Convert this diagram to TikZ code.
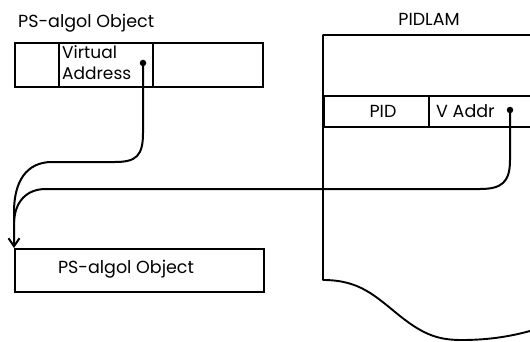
\documentclass[tikz,border=0pt]{standalone}
\usepackage{fontspec}
\setmainfont{Poppins}
\usetikzlibrary{arrows.meta}

\tikzset{
  cell/.style={draw, line width=1.9pt, inner sep=0pt, anchor=north west},
  lbl/.style={inner sep=0pt, font=\fontsize{17.5}{19}\selectfont},
  conn/.style={line width=2pt, line cap=round},
  dot/.style={circle, fill, inner sep=0pt, minimum size=6.5pt},
  outline/.style={line width=1.9pt, line join=round},
}

\begin{document}
\begin{tikzpicture}[x=1pt, y=-1pt]
  \useasboundingbox (0,0) rectangle (530,342);
  \clip (0,0) rectangle (530,342);

  % heap object holding a virtual address
  \node[lbl, anchor=base west] (objtitle) at (18,28) {PS-algol Object};
  \node[cell, minimum width=44pt, minimum height=44pt] (c1) at (14,42) {};
  \node[cell, minimum width=94pt, minimum height=44pt] (c2) at (58,42) {};
  \node[cell, minimum width=110pt, minimum height=44pt] (c3) at (152,42) {};
  \node[lbl, anchor=north west, align=left, font=\fontsize{17}{20.5}\selectfont]
    (vtxt) at (62,45.5) {Virtual\\Address};
  \node[dot] (va) at (143,63) {};

  % the object it resolves to
  \node[cell, minimum width=249pt, minimum height=43pt] (obj) at (14,248) {};
  \node[lbl] (objtxt) at (126,269) {PS-algol Object};

  % PIDLAM table
  \node[lbl] (pidlamtitle) at (429,19) {PIDLAM};
  \draw[outline] (540,35) -- (323,35) -- (323,280)
    .. controls (360,280) and (375,296) .. (400,316)
    .. controls (425,336) and (440,340) .. (462,340)
    .. controls (490,340) and (515,336) .. (540,328);
  \node[cell, minimum width=105pt, minimum height=31pt] (pid) at (323,95) {};
  \node[cell, minimum width=120pt, minimum height=31pt] (vaddr) at (428,95) {};
  \node[lbl] (pidtxt) at (383,111) {PID};
  \node[lbl, anchor=west] (vaddrtxt) at (436,111) {V Addr};
  \node[dot] (vd) at (510,110) {};

  % pointers
  \draw[conn, -{Straight Barb[length=8pt, width=11pt, line width=2pt]}]
    (va.center) -- (143,133)
    .. controls (143,156) and (136,162) .. (115,162) -- (52,162)
    .. controls (26,162) and (14,182) .. (14,212) -- (obj.north west);
  \draw[conn]
    (vd.center) -- (510,160)
    .. controls (510,182) and (502,189) .. (480,189) -- (46,189)
    .. controls (26,189) and (15,202) .. (14,222);
\end{tikzpicture}
\end{document}
